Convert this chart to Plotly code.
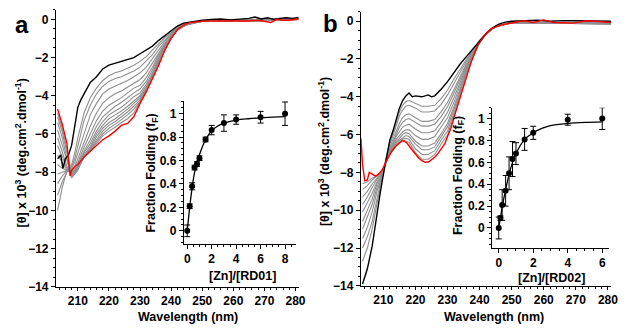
import plotly.graph_objects as go

# ---------------- Panel a : CD spectra (RD01) ----------------
wl_black_a = [203.5, 204.5, 205.2, 206.0, 207.0, 208.0, 209.0, 210.0, 211.0, 212.0, 213.0, 214.0, 216.0,
              218.0, 220.0, 222.0, 224.0, 226.0, 228.0, 230.0, 232.0, 234.0, 236.0, 238.0, 240.0, 242.0,
              244.0, 246.0, 248.0, 250.0, 253.0, 256.0, 259.0, 262.0, 265.0, 267.0, 269.0, 271.0, 273.0,
              275.0, 277.0, 279.0, 281.0]
cd_black_a = [-7.3, -7.1, -7.8, -7.3, -7.1, -6.6, -5.6, -4.6, -4.2, -3.9, -3.6, -3.3, -3.0,
              -2.6, -2.4, -2.3, -2.2, -2.1, -2.0, -1.8, -1.6, -1.4, -1.1, -0.85, -0.6, -0.35,
              -0.2, -0.15, -0.08, -0.04, 0.0, 0.02, -0.03, 0.0, 0.05, 0.12, 0.02, 0.08, 0.0,
              0.05, 0.08, 0.05, 0.1]

wl_red_a = [203.5, 205.0, 206.5, 207.5, 208.0, 209.0, 210.0, 212.0, 214.0, 216.0, 218.0, 220.0, 222.0,
            224.0, 226.0, 228.0, 229.5, 230.0, 232.0, 234.0, 236.0, 238.0, 240.0, 242.0, 244.0, 246.0,
            250.0, 256.0, 260.0, 265.0, 268.0, 270.0, 272.0, 274.0, 276.0, 278.0, 281.0]
cd_red_a = [-4.7, -5.5, -6.5, -8.2, -7.9, -7.7, -7.6, -7.2, -6.9, -6.6, -6.3, -6.1, -5.85,
            -5.55, -5.45, -5.1, -4.5, -4.4, -3.8, -3.1, -2.4, -1.6, -1.0, -0.55, -0.3, -0.17,
            -0.1, -0.08, -0.1, -0.09, -0.05, -0.1, -0.17, 0.0, -0.05, -0.05, 0.03]

wl_gray_a = [203.5, 205, 206.5, 208, 209, 210, 212, 214, 216, 218, 220, 222, 224, 226, 228, 230,
             232, 234, 236, 238, 240, 242, 245, 250, 260, 270, 281]
cd_gray_a = [
    [-10.0, -8.8, -7.9, -7.6, -7.0, -6.2, -4.9, -4.1, -3.6, -3.2, -2.95, -2.8, -2.7, -2.55, -2.4, -2.2, -1.95, -1.6, -1.25, -0.95, -0.7, -0.4, -0.2, -0.08, -0.02, 0.0, 0.05],
    [-9.2, -8.5, -8.0, -7.7, -7.3, -6.6, -5.3, -4.5, -3.9, -3.5, -3.25, -3.1, -3.0, -2.85, -2.7, -2.5, -2.2, -1.85, -1.4, -1.05, -0.75, -0.42, -0.2, -0.08, -0.02, 0.0, 0.04],
    [-8.6, -8.2, -7.9, -7.8, -7.5, -7.0, -5.9, -5.0, -4.4, -3.9, -3.65, -3.5, -3.35, -3.2, -3.0, -2.8, -2.5, -2.05, -1.55, -1.15, -0.8, -0.45, -0.2, -0.08, -0.03, 0.0, 0.03],
    [-8.1, -8.0, -7.9, -7.9, -7.7, -7.3, -6.4, -5.6, -4.9, -4.4, -4.1, -3.9, -3.75, -3.55, -3.35, -3.15, -2.8, -2.3, -1.75, -1.25, -0.85, -0.47, -0.22, -0.09, -0.03, -0.01, 0.03],
    [-7.6, -7.8, -7.9, -8.0, -7.8, -7.5, -6.7, -6.0, -5.3, -4.8, -4.5, -4.3, -4.1, -3.85, -3.6, -3.45, -3.05, -2.5, -1.85, -1.3, -0.9, -0.5, -0.23, -0.09, -0.04, -0.02, 0.02],
    [-7.1, -7.5, -7.9, -8.0, -7.9, -7.6, -6.9, -6.3, -5.6, -5.1, -4.8, -4.55, -4.35, -4.1, -3.85, -3.65, -3.25, -2.65, -1.95, -1.35, -0.92, -0.5, -0.24, -0.1, -0.04, -0.03, 0.02],
    [-6.6, -7.2, -7.8, -8.1, -8.0, -7.7, -7.0, -6.5, -5.85, -5.35, -5.0, -4.8, -4.6, -4.35, -4.05, -3.85, -3.4, -2.8, -2.05, -1.42, -0.95, -0.52, -0.25, -0.1, -0.05, -0.04, 0.01],
    [-6.2, -6.9, -7.7, -8.1, -8.0, -7.8, -7.1, -6.65, -6.0, -5.55, -5.2, -5.0, -4.8, -4.55, -4.25, -4.0, -3.5, -2.9, -2.15, -1.48, -0.97, -0.53, -0.26, -0.1, -0.05, -0.05, 0.01],
    [-5.8, -6.6, -7.5, -8.2, -8.1, -7.8, -7.15, -6.75, -6.15, -5.7, -5.4, -5.2, -4.95, -4.7, -4.4, -4.1, -3.6, -2.95, -2.2, -1.52, -0.98, -0.54, -0.27, -0.1, -0.06, -0.06, 0.0],
    [-5.4, -6.2, -7.3, -8.3, -8.1, -7.9, -7.2, -6.8, -6.3, -5.85, -5.55, -5.35, -5.1, -4.85, -4.55, -4.2, -3.65, -3.0, -2.25, -1.55, -0.99, -0.54, -0.28, -0.1, -0.07, -0.07, 0.0],
    [-5.1, -5.9, -7.0, -8.2, -8.0, -7.8, -7.2, -6.85, -6.4, -6.0, -5.7, -5.5, -5.25, -5.0, -4.7, -4.3, -3.7, -3.05, -2.3, -1.57, -1.0, -0.55, -0.29, -0.1, -0.08, -0.08, 0.0],
    [-4.9, -5.7, -6.8, -8.1, -7.9, -7.7, -7.2, -6.9, -6.5, -6.1, -5.85, -5.65, -5.4, -5.2, -4.9, -4.35, -3.75, -3.08, -2.35, -1.58, -1.0, -0.55, -0.3, -0.1, -0.09, -0.09, -0.02],
]

# ---------------- Panel b : CD spectra (RD02) ----------------
wl_black_b = [203.5, 205, 206.5, 208, 209, 210, 211, 212, 213, 214, 215, 216, 217, 218, 219, 220, 222,
              224, 225, 226, 227, 228, 230, 232, 234, 236, 238, 240, 242, 244, 246, 248, 250, 254,
              258, 262, 266, 270, 275, 281]
cd_black_b = [-13.9, -13.1, -11.9, -10.1, -9.1, -8.1, -7.1, -6.3, -5.8, -5.2, -4.6, -4.2, -3.95, -3.8, -4.0, -3.95, -4.0,
              -3.9, -4.0, -3.95, -3.8, -3.6, -3.2, -2.7, -2.25, -1.85, -1.45, -1.0, -0.65, -0.35, -0.15, -0.05, 0.0, 0.02,
              0.05, 0.0, 0.03, 0.02, 0.0, 0.0]

wl_red_b = [203.0, 203.5, 204.2, 205.0, 205.6, 206.5, 207.5, 208.5, 209.7, 210.5, 211.7, 212.7, 213.8, 215.0,
            215.8, 216.5, 217.4, 218.9, 220.0, 221.0, 222.0, 223.0, 224.0, 225.1, 226.0, 227.1, 228.0,
            229.2, 230.0, 231.2, 232.0, 233.3, 234.0, 235.3, 236.0, 237.4, 238.0, 239.4, 240.0, 241.5,
            243.5, 246.6, 250.7, 253.8, 256.8, 259.9, 263.0, 266.1, 269.2, 273.2, 277.4, 281.0]
cd_red_b = [-6.2, -7.6, -8.45, -8.4, -8.0, -8.1, -8.2, -8.1, -7.85, -7.55, -7.15, -6.85, -6.63, -6.45,
            -6.32, -6.35, -6.46, -6.8, -7.05, -7.24, -7.38, -7.47, -7.45, -7.33, -7.2, -6.98, -6.75,
            -6.46, -6.1, -5.6, -5.1, -4.39, -3.95, -3.18, -2.8, -2.14, -1.9, -1.28, -1.13, -0.76,
            -0.41, -0.21, -0.07, 0.02, -0.07, 0.07, -0.07, -0.07, -0.1, 0.02, -0.04, -0.07]

wl_gray_b = [203.5, 205, 206.5, 208, 209, 210, 211, 212, 213, 214, 215, 216, 217, 218, 220, 222, 224,
             226, 228, 230, 232, 234, 236, 238, 240, 242, 245, 250, 260, 270, 281]
cd_gray_b = [
    [-12.7, -12.0, -11.0, -9.6, -8.8, -7.9, -7.1, -6.4, -5.9, -5.35, -4.8, -4.45, -4.25, -4.2, -4.35, -4.5, -4.5, -4.45, -4.1, -3.64, -3.06, -2.5, -1.99, -1.52, -1.02, -0.66, -0.27, -0.05, -0.06, -0.08, -0.1],
    [-12.0, -11.4, -10.6, -9.3, -8.6, -7.9, -7.15, -6.5, -6.05, -5.55, -5.0, -4.7, -4.5, -4.45, -4.6, -4.8, -4.8, -4.75, -4.4, -3.9, -3.28, -2.66, -2.08, -1.56, -1.03, -0.66, -0.27, -0.06, -0.07, -0.09, -0.11],
    [-11.5, -10.9, -10.1, -9.0, -8.5, -7.9, -7.2, -6.65, -6.25, -5.8, -5.4, -5.1, -4.95, -4.9, -5.1, -5.3, -5.3, -5.2, -4.8, -4.3, -3.61, -2.9, -2.21, -1.62, -1.05, -0.66, -0.28, -0.06, -0.07, -0.1, -0.12],
    [-11.0, -10.4, -9.7, -8.8, -8.4, -7.9, -7.25, -6.75, -6.4, -5.95, -5.6, -5.35, -5.2, -5.15, -5.35, -5.55, -5.55, -5.45, -5.05, -4.53, -3.8, -3.03, -2.29, -1.66, -1.06, -0.67, -0.28, -0.07, -0.08, -0.1, -0.12],
    [-10.6, -10.0, -9.4, -8.6, -8.3, -7.85, -7.3, -6.85, -6.5, -6.1, -5.85, -5.6, -5.5, -5.45, -5.7, -5.9, -5.9, -5.8, -5.35, -4.82, -4.04, -3.2, -2.38, -1.7, -1.07, -0.67, -0.28, -0.07, -0.08, -0.11, -0.13],
    [-10.1, -9.6, -9.1, -8.5, -8.2, -7.85, -7.32, -6.9, -6.6, -6.25, -6.05, -5.85, -5.75, -5.75, -6.05, -6.25, -6.25, -6.1, -5.6, -5.11, -4.28, -3.37, -2.48, -1.75, -1.09, -0.67, -0.29, -0.07, -0.09, -0.11, -0.13],
    [-9.7, -9.3, -8.8, -8.4, -8.1, -7.8, -7.34, -6.95, -6.7, -6.35, -6.2, -6.0, -5.9, -5.95, -6.35, -6.6, -6.6, -6.45, -5.95, -5.4, -4.52, -3.54, -2.57, -1.79, -1.1, -0.68, -0.29, -0.07, -0.09, -0.12, -0.14],
    [-9.3, -9.0, -8.6, -8.3, -8.1, -7.8, -7.35, -7.0, -6.75, -6.45, -6.3, -6.15, -6.05, -6.1, -6.5, -6.8, -6.8, -6.65, -6.1, -5.58, -4.67, -3.64, -2.63, -1.82, -1.11, -0.68, -0.29, -0.08, -0.1, -0.12, -0.14],
    [-8.9, -8.7, -8.4, -8.2, -8.0, -7.8, -7.36, -7.0, -6.8, -6.5, -6.4, -6.25, -6.2, -6.25, -6.75, -7.05, -7.05, -6.85, -6.3, -5.81, -4.86, -3.78, -2.7, -1.86, -1.12, -0.68, -0.3, -0.08, -0.1, -0.13, -0.15],
    [-8.6, -8.5, -8.3, -8.2, -8.0, -7.8, -7.37, -7.02, -6.85, -6.55, -6.45, -6.3, -6.35, -6.4, -6.95, -7.3, -7.3, -7.05, -6.5, -6.01, -5.03, -3.9, -2.77, -1.89, -1.13, -0.68, -0.3, -0.08, -0.11, -0.13, -0.15],
]

# ---------------- Insets : fraction folding ----------------
zn_a = [0, 0.2, 0.4, 0.6, 0.8, 1.0, 1.5, 2, 3, 4, 6, 8]
ff_a = [0.0, 0.21, 0.38, 0.54, 0.57, 0.62, 0.78, 0.86, 0.92, 0.95, 0.97, 1.0]
err_a = [0.05, 0.02, 0.03, 0.02, 0.02, 0.02, 0.02, 0.04, 0.07, 0.04, 0.05, 0.1]
fit_x_a = [0, 0.1, 0.2, 0.3, 0.4, 0.5, 0.6, 0.8, 1.0, 1.25, 1.5, 1.75, 2.0, 2.5, 3, 4, 5, 6, 7, 8]
fit_y_a = [0, 0.1, 0.2, 0.29, 0.37, 0.44, 0.5, 0.58, 0.65, 0.72, 0.78, 0.82, 0.855, 0.895, 0.92, 0.945, 0.957, 0.965, 0.97, 0.975]

zn_b = [0, 0.1, 0.2, 0.4, 0.6, 0.8, 1.0, 1.5, 2, 4, 6]
ff_b = [0.0, 0.09, 0.21, 0.34, 0.5, 0.63, 0.68, 0.81, 0.87, 0.99, 1.0]
err_b = [0.1, 0.02, 0.14, 0.14, 0.15, 0.16, 0.1, 0.1, 0.06, 0.05, 0.1]
fit_x_b = [0, 0.1, 0.2, 0.4, 0.6, 0.8, 1.0, 1.5, 2, 2.5, 3, 4, 5, 6]
fit_y_b = [0, 0.09, 0.19, 0.35, 0.49, 0.6, 0.68, 0.81, 0.87, 0.91, 0.935, 0.955, 0.965, 0.97]

W, H = 629, 331
FONT = "Liberation Sans, Arial, sans-serif"
GRAY = "#8e8e8e"


def dx(px):
    return px / W


def dy(py):
    return 1 - py / H


fig = go.Figure()

# panel a spectra
for g in cd_gray_a:
    fig.add_trace(go.Scatter(x=wl_gray_a, y=g, mode="lines", line=dict(color=GRAY, width=1.1),
                             xaxis="x", yaxis="y", showlegend=False, hoverinfo="skip"))
fig.add_trace(go.Scatter(x=wl_black_a, y=cd_black_a, mode="lines", line=dict(color="black", width=1.4),
                         xaxis="x", yaxis="y", showlegend=False))
fig.add_trace(go.Scatter(x=wl_red_a, y=cd_red_a, mode="lines", line=dict(color="#ff0000", width=1.4),
                         xaxis="x", yaxis="y", showlegend=False))

# panel b spectra
for g in cd_gray_b:
    fig.add_trace(go.Scatter(x=wl_gray_b, y=g, mode="lines", line=dict(color=GRAY, width=1.1),
                             xaxis="x3", yaxis="y3", showlegend=False, hoverinfo="skip"))
fig.add_trace(go.Scatter(x=wl_black_b, y=cd_black_b, mode="lines", line=dict(color="black", width=1.4),
                         xaxis="x3", yaxis="y3", showlegend=False))
fig.add_trace(go.Scatter(x=wl_red_b, y=cd_red_b, mode="lines", line=dict(color="#ff0000", width=1.4),
                         xaxis="x3", yaxis="y3", showlegend=False))

# insets
for (fx, fy, zx, zy, ze, xa, ya) in [(fit_x_a, fit_y_a, zn_a, ff_a, err_a, "x2", "y2"),
                                     (fit_x_b, fit_y_b, zn_b, ff_b, err_b, "x4", "y4")]:
    fig.add_trace(go.Scatter(x=fx, y=fy, mode="lines", line=dict(color="black", width=1.3, shape="spline"),
                             xaxis=xa, yaxis=ya, showlegend=False))
    fig.add_trace(go.Scatter(x=zx, y=zy, mode="markers", marker=dict(color="black", size=6),
                             error_y=dict(type="data", array=ze, color="black", thickness=1, width=3),
                             xaxis=xa, yaxis=ya, showlegend=False))

tickfont = dict(family=FONT, size=12, color="black", weight="bold")
common = dict(showline=True, linecolor="black", linewidth=1.3, ticks="outside", ticklen=4,
              tickwidth=1.2, tickcolor="black", showgrid=False, zeroline=False, tickfont=tickfont)

main_x = dict(common, range=[203, 281], tick0=210, dtick=10, ticklen=3,
              minor=dict(ticks="outside", ticklen=2, tickcolor="black", dtick=2, tick0=200, showgrid=False))
main_y = dict(common, range=[-14, 0.5], tick0=0, dtick=2,
              minor=dict(ticks="outside", ticklen=2, tickcolor="black", dtick=0.5, tick0=0, showgrid=False))

fig.update_layout(
    width=W, height=H, margin=dict(l=0, r=0, t=0, b=0),
    paper_bgcolor="white", plot_bgcolor="rgba(0,0,0,0)",
    font=dict(family=FONT, color="black"),
    xaxis=dict(main_x, domain=[dx(56.7), dx(302)], anchor="y"),
    yaxis=dict(main_y, domain=[dy(293), dy(10)], anchor="x"),
    xaxis3=dict(main_x, domain=[dx(365), dx(618)], anchor="y3"),
    yaxis3=dict(main_y, domain=[dy(292), dy(12)], anchor="x3"),
    xaxis2=dict(common, range=[-0.27, 8.87], tick0=0, dtick=2, domain=[dx(186), dx(299)], anchor="y2",
                minor=dict(ticks="outside", ticklen=2, tickcolor="black", dtick=0.5, showgrid=False)),
    yaxis2=dict(common, range=[-0.11, 1.11], tick0=0, dtick=0.2, domain=[dy(249), dy(103)], anchor="x2",
                minor=dict(ticks="outside", ticklen=2, tickcolor="black", dtick=0.05, showgrid=False)),
    xaxis4=dict(common, range=[-0.38, 6.4], tick0=0, dtick=2, domain=[dx(497.7), dx(616)], anchor="y4",
                minor=dict(ticks="outside", ticklen=2, tickcolor="black", dtick=0.5, showgrid=False)),
    yaxis4=dict(common, range=[-0.18, 1.1], tick0=0, dtick=0.2, domain=[dy(253), dy(110)], anchor="x4",
                minor=dict(ticks="outside", ticklen=2, tickcolor="black", dtick=0.05, showgrid=False)),
)

ytitle = "[θ] x 10<sup>3</sup> (deg.cm<sup>2</sup>.dmol<sup>-1</sup>)"
ann = [
    dict(text="a", x=dx(22.5), y=dy(25), font=dict(size=24, weight="bold")),
    dict(text="b", x=dx(334), y=dy(24), font=dict(size=24, weight="bold")),
    dict(text=ytitle, x=dx(21), y=dy(156), textangle=-90, font=dict(size=12.5, weight="bold")),
    dict(text=ytitle, x=dx(327), y=dy(155), textangle=-90, font=dict(size=12.5, weight="bold")),
    dict(text="Wavelength (nm)", x=dx(190), y=dy(323.5), font=dict(size=12.5, weight="bold")),
    dict(text="Wavelength (nm)", x=dx(500), y=dy(323.5), font=dict(size=12.5, weight="bold")),
    dict(text="Fraction Folding (f<sub>F</sub>)", x=dx(154), y=dy(177), textangle=-90,
         font=dict(size=12.5, weight="bold")),
    dict(text="Fraction Folding (f<sub>F</sub>)", x=dx(464), y=dy(179), textangle=-90,
         font=dict(size=12.5, weight="bold")),
    dict(text="[Zn]/[RD01]", x=dx(245), y=dy(282), font=dict(size=12.5, weight="bold")),
    dict(text="[Zn]/[RD02]", x=dx(558), y=dy(284), font=dict(size=12.5, weight="bold")),
]
for a in ann:
    a.update(xref="paper", yref="paper", showarrow=False, xanchor="center", yanchor="middle")
    a["font"].update(family=FONT, color="black")
fig.update_layout(annotations=ann)

fig.write_html("out.html")
